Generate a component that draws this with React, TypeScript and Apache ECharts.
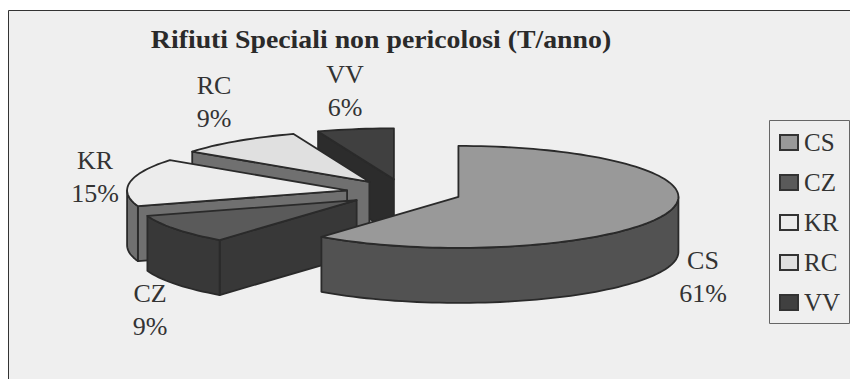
import React, { useEffect, useRef } from "react";
import * as echarts from "echarts";

const categories = ["CS", "CZ", "KR", "RC", "VV"];
const values = [60.7, 9.3, 15.1, 9.3, 5.6];
const titleText = "Rifiuti Speciali non pericolosi (T/anno)";

const topColors = ["#999999", "#5a5a5a", "#ececec", "#e0e0e0", "#404040"];
const sideColors = ["#525252", "#383838", "#707070", "#707070", "#2c2c2c"];
const labelAnchors = [[703, 277], [150, 310], [95, 177], [214, 102], [345, 91]];

const SERIF = "'Liberation Serif', serif";
const CX = 404, CY = 192.5, RX = 220, RY = 51, DEPTH = 55, EXPLODE = 0.262;
const STROKE = "#2a2a2a";

const total = values.reduce((a, b) => a + b, 0);
const rad = (d: number) => (d * Math.PI) / 180;

function renderSlice(index: number) {
  return (_params: any, api: any) => {
    const value = api.value(0);
    const before = values.slice(0, index).reduce((a, b) => a + b, 0);
    const start = (before / total) * 360;
    const end = start + (value / total) * 360;
    const mid = rad((start + end) / 2);
    const ax = CX + EXPLODE * RX * Math.sin(mid);
    const ay = CY - EXPLODE * RY * Math.cos(mid);
    const at = (deg: number, dz = 0) => [ax + RX * Math.sin(rad(deg)), ay - RY * Math.cos(rad(deg)) + dz];
    const arc = (a: number, b: number, dz = 0) => {
      const n = Math.max(2, Math.ceil(Math.abs(b - a) / 2));
      const pts: number[][] = [];
      for (let i = 0; i <= n; i++) pts.push(at(a + ((b - a) * i) / n, dz));
      return pts;
    };
    const style = (fill: string) => ({ fill, stroke: STROKE, lineWidth: 1.8, lineJoin: "round" });
    const poly = (points: number[][], fill: string) => ({ type: "polygon", shape: { points }, style: style(fill) });
    const children: any[] = [];
    const side = sideColors[index];
    const cutFace = (deg: number) => poly([at(deg), [ax, ay], [ax, ay + DEPTH], at(deg, DEPTH)], side);
    if (Math.sin(rad(start)) < -1e-6) children.push(cutFace(start));
    if (Math.sin(rad(end)) > 1e-6) children.push(cutFace(end));
    const visFrom = Math.max(start, 90), visTo = Math.min(end, 270);
    if (visTo > visFrom) {
      children.push(poly([...arc(visFrom, visTo), ...arc(visTo, visFrom, DEPTH)], side));
    }
    children.push(poly([[ax, ay], ...arc(start, end)], topColors[index]));
    const [lx, ly] = labelAnchors[index];
    children.push({
      type: "text",
      x: lx,
      y: ly,
      style: {
        text: `${categories[index]}\n${Math.round((value / total) * 100)}%`,
        fontFamily: SERIF,
        fontSize: 26,
        lineHeight: 33,
        fill: "#333333",
        align: "center",
        verticalAlign: "middle",
      },
    });
    return { type: "group", children };
  };
}

export default function App() {
  const ref = useRef<HTMLDivElement>(null);
  useEffect(() => {
    document.body.style.margin = "0";
    const chart = echarts.init(ref.current!, undefined, { renderer: "svg" });
    const order = categories.map((_, i) => i).reverse();
    chart.setOption({
      animation: false,
      backgroundColor: "#ffffff",
      graphic: [
        {
          type: "rect",
          silent: true,
          shape: { x: 8.5, y: 10.5, width: 860, height: 390 },
          style: { fill: "#efefef", stroke: "#333333", lineWidth: 1 },
        },
        {
          type: "rect",
          silent: true,
          shape: { x: 769.5, y: 120.5, width: 80, height: 203 },
          style: { fill: "#efefef", stroke: "#666666", lineWidth: 1 },
        },
        {
          type: "text",
          silent: true,
          x: 381,
          y: 39,
          scaleX: 1.07,
          style: {
            text: titleText,
            fontFamily: SERIF,
            fontWeight: "bold",
            fontSize: 26,
            fill: "#2a2a2a",
            align: "center",
            verticalAlign: "middle",
          },
        },
      ],
      legend: {
        orient: "vertical",
        left: 779,
        top: 130,
        selectedMode: false,
        data: categories,
        icon: "rect",
        itemWidth: 18,
        itemHeight: 15,
        itemGap: 15,
        padding: 0,
        itemStyle: { borderColor: "#333333", borderWidth: 2 },
        textStyle: { fontFamily: SERIF, fontSize: 25, color: "#333333", padding: [0, 0, 0, 1] },
      },
      series: order.map((i) => ({
        type: "custom",
        name: categories[i],
        coordinateSystem: "none",
        itemStyle: { color: topColors[i] },
        renderItem: renderSlice(i),
        data: [values[i]],
      })),
    });
    return () => chart.dispose();
  }, []);
  return <div ref={ref} style={{ width: 850, height: 379 }} />;
}
